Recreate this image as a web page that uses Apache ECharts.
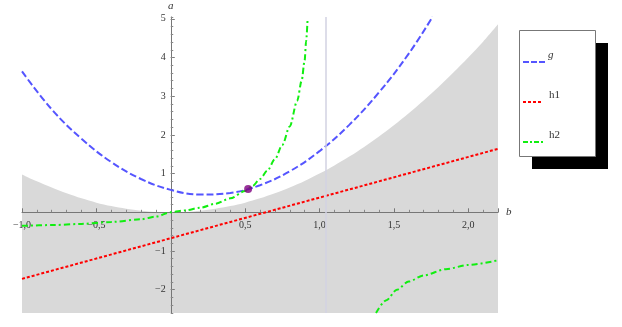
<!DOCTYPE html>
<html>
<head>
<meta charset="utf-8">
<script src="https://cdn.jsdelivr.net/npm/echarts@6/dist/echarts.min.js"></script>
<style>
  html, body { margin: 0; padding: 0; background: #fff; }
  #chart { width: 622px; height: 327px; }
</style>
</head>
<body>
<div id="chart"></div>
<script>
// region a <= b^2 (grey), upper edge
const shadeX = [-1.0, -0.9, -0.8, -0.7, -0.6, -0.5, -0.4, -0.3, -0.2, -0.1, 0, 0.1, 0.2, 0.3, 0.4, 0.5, 0.6, 0.7, 0.8, 0.9, 1.0, 1.1, 1.2, 1.3, 1.4, 1.5, 1.6, 1.7, 1.8, 1.9, 2.0, 2.1, 2.2];
const shadeY = [0.98, 0.8, 0.64, 0.49, 0.36, 0.25, 0.16, 0.09, 0.04, 0.01, 0, 0.01, 0.04, 0.09, 0.16, 0.25, 0.36, 0.49, 0.64, 0.81, 1.0, 1.21, 1.44, 1.69, 1.96, 2.25, 2.56, 2.89, 3.24, 3.61, 4.0, 4.41, 4.86];

// g (blue dashed)
const gX = [-1.0, -0.8, -0.6, -0.4, -0.2, 0, 0.2, 0.4, 0.6, 0.8, 1.0, 1.2, 1.4, 1.6, 1.76];
const gY = [3.64, 2.66, 1.9, 1.3, 0.86, 0.58, 0.46, 0.5, 0.7, 1.06, 1.58, 2.26, 3.1, 4.1, 5.05];

// h1 (red dotted)
const h1X = [-1.0, 0, 1.0, 2.2];
const h1Y = [-1.72, -0.67, 0.38, 1.64];

// h2 (green dash-dot), two branches
const h2aX = [-1.0, -0.8, -0.6, -0.4, -0.2, -0.1, 0, 0.1, 0.2, 0.3, 0.4, 0.5, 0.55, 0.6, 0.65, 0.7, 0.75, 0.8, 0.85, 0.88, 0.9, 0.91, 0.92];
const h2aY = [-0.35, -0.33, -0.3, -0.25, -0.18, -0.11, 0, 0.05, 0.12, 0.22, 0.36, 0.55, 0.68, 0.86, 1.08, 1.37, 1.74, 2.22, 2.88, 3.4, 3.92, 4.42, 5.0];
const h2bX = [1.38, 1.45, 1.52, 1.6, 1.7, 1.85, 2.0, 2.2];
const h2bY = [-2.6, -2.27, -2.0, -1.79, -1.63, -1.47, -1.36, -1.24];

// intersection point, vertical grid line
const pointXY = [0.52, 0.6];
const vLineX = 1.04;

// tick labels
const yTickVals = [-2, -1, 1, 2, 3, 4, 5];

function zip(xs, ys) {
  return xs.map((x, i) => [x, ys[i]]);
}
function fmt(v) {
  return String(v).replace('.', ',').replace('-', '\u2212');
}

const serif = '"Liberation Serif", "DejaVu Serif", serif';

// plot box, axes cross at the origin
const gridL = 22, gridR = 124, gridT = 16.9, gridB = 14.1;
const xMin = -1, xMax = 2.2, yMin = -2.6, yMax = 5.05;
const plotW = 622 - gridL - gridR, plotH = 327 - gridT - gridB;
// move the axes from the box edge onto the zero lines
const xAxisOffset = -(0 - yMin) / (yMax - yMin) * plotH;
const yAxisOffset = -(0 - xMin) / (xMax - xMin) * plotW;

let myChart = echarts.init(document.getElementById('chart'));
let option = {
  backgroundColor: '#fff',
  animation: false,
  grid: {
    left: gridL,
    right: gridR,
    top: gridT,
    bottom: gridB
  },
  xAxis: {
    type: 'value',
    position: 'bottom',
    offset: xAxisOffset,
    min: xMin,
    max: xMax,
    interval: 0.5,
    z: 1,
    name: 'b',
    nameLocation: 'end',
    nameGap: 8,
    nameTextStyle: { fontFamily: serif, fontStyle: 'italic', fontSize: 11, color: '#333' },
    axisLine: { onZero: false, lineStyle: { color: '#777', width: 1 } },
    axisTick: { inside: true, length: 4, lineStyle: { color: '#777' } },
    minorTick: { show: true, splitNumber: 5, length: 2.5, lineStyle: { color: '#888' } },
    splitLine: { show: false },
    axisLabel: {
      fontFamily: serif,
      fontSize: 10,
      color: '#333',
      margin: 8,
      showMaxLabel: false,
      formatter: function (v) {
        if (Math.abs(v) < 1e-9 || v > 2.1) return '';
        return fmt(v.toFixed(1));
      }
    }
  },
  yAxis: [{
    type: 'value',
    position: 'left',
    offset: yAxisOffset,
    min: yMin,
    max: yMax,
    z: 1,
    name: 'a',
    nameLocation: 'end',
    nameGap: 5,
    nameTextStyle: { fontFamily: serif, fontStyle: 'italic', fontSize: 11, color: '#333' },
    axisLine: { onZero: false, lineStyle: { color: '#777', width: 1 } },
    axisTick: { inside: true, length: 4, customValues: yTickVals, lineStyle: { color: '#777' } },
    splitLine: { show: false },
    axisLabel: {
      customValues: yTickVals,
      fontFamily: serif,
      fontSize: 10,
      color: '#333',
      margin: 5,
      formatter: function (v) { return fmt(v); }
    }
  }, {
    // minor ticks only
    type: 'value',
    position: 'left',
    offset: yAxisOffset,
    min: yMin,
    max: yMax,
    interval: 0.2,
    z: 1,
    axisLine: { show: false, onZero: false },
    axisTick: { inside: true, length: 2.5, lineStyle: { color: '#888' } },
    axisLabel: { show: false },
    splitLine: { show: false }
  }],
  series: [{
    // grey region
    type: 'line',
    data: zip(shadeX, shadeY),
    smooth: 0.3,
    symbol: 'none',
    z: -1,
    silent: true,
    lineStyle: { width: 0, opacity: 0 },
    areaStyle: { origin: 'start', color: '#d9d9d9', opacity: 1 }
  }, {
    name: 'h1',
    type: 'line',
    data: zip(h1X, h1Y),
    symbol: 'none',
    z: 3,
    lineStyle: { color: '#ff0000', width: 2, type: [3, 2] },
    markLine: {
      silent: true,
      symbol: 'none',
      label: { show: false },
      lineStyle: { color: '#d2d2e2', width: 1.5, type: 'solid' },
      data: [{ xAxis: vLineX }]
    }
  }, {
    name: 'g',
    type: 'line',
    data: zip(gX, gY),
    smooth: 0.4,
    symbol: 'none',
    z: 4,
    lineStyle: { color: '#5555ff', width: 2, type: [7, 3] }
  }, {
    name: 'h2',
    type: 'line',
    data: zip(h2aX, h2aY),
    smooth: 0.3,
    smoothMonotone: 'x',
    symbol: 'none',
    z: 4,
    lineStyle: { color: '#11ee11', width: 2, type: [6, 3, 2, 3] }
  }, {
    name: 'h2',
    type: 'line',
    data: zip(h2bX, h2bY),
    smooth: 0.3,
    smoothMonotone: 'x',
    symbol: 'none',
    z: 4,
    lineStyle: { color: '#11ee11', width: 2, type: [6, 3, 2, 3] }
  }, {
    type: 'scatter',
    data: [pointXY],
    symbolSize: 8,
    z: 6,
    itemStyle: { color: '#800080' }
  }],
  graphic: [
    { type: 'rect', shape: { x: 532, y: 43, width: 76, height: 126 }, style: { fill: '#000' } },
    { type: 'rect', shape: { x: 519.5, y: 30.5, width: 76, height: 126 }, style: { fill: '#fff', stroke: '#777', lineWidth: 1 } },
    { type: 'line', shape: { x1: 523, y1: 62, x2: 545, y2: 62 }, style: { stroke: '#5555ff', lineWidth: 2, lineDash: [6, 2] } },
    { type: 'text', style: { text: 'g', x: 548, y: 55, font: 'italic 11px ' + serif, fill: '#333', verticalAlign: 'middle' } },
    { type: 'line', shape: { x1: 523, y1: 102, x2: 543, y2: 102 }, style: { stroke: '#ff0000', lineWidth: 2, lineDash: [3, 2] } },
    { type: 'text', style: { text: 'h1', x: 549, y: 95, font: '11px ' + serif, fill: '#333', verticalAlign: 'middle' } },
    { type: 'line', shape: { x1: 523, y1: 142, x2: 545, y2: 142 }, style: { stroke: '#11ee11', lineWidth: 2, lineDash: [5, 2, 2, 2] } },
    { type: 'text', style: { text: 'h2', x: 549, y: 135, font: '11px ' + serif, fill: '#333', verticalAlign: 'middle' } }
  ]
};
myChart.setOption(option, (window.onresize = myChart.resize));
</script>
</body>
</html>
